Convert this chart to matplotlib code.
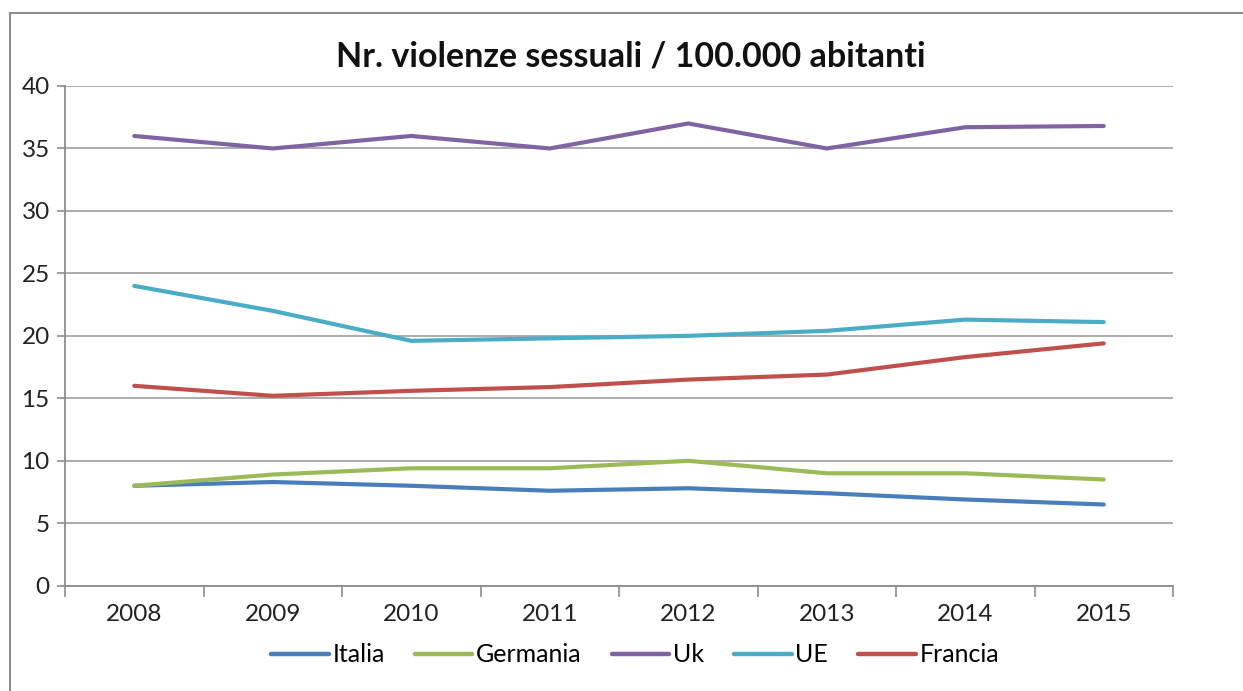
import matplotlib
matplotlib.use("Agg")
import matplotlib.pyplot as plt
from matplotlib.patches import Rectangle

years = ["2008", "2009", "2010", "2011", "2012", "2013", "2014", "2015"]
italia = [8.0, 8.3, 8.0, 7.6, 7.8, 7.4, 6.9, 6.5]
germania = [8.0, 8.9, 9.4, 9.4, 10.0, 9.0, 9.0, 8.5]
uk = [36.0, 35.0, 36.0, 35.0, 37.0, 35.0, 36.7, 36.8]
ue = [24.0, 22.0, 19.6, 19.8, 20.0, 20.4, 21.3, 21.1]
francia = [16.0, 15.2, 15.6, 15.9, 16.5, 16.9, 18.3, 19.4]

series = [
    ("Italia", italia, "#4A7EBB"),
    ("Germania", germania, "#9BBB59"),
    ("Uk", uk, "#8064A2"),
    ("UE", ue, "#4BACC6"),
    ("Francia", francia, "#C0504D"),
]

plt.rcParams['font.family'] = ['Lato', 'DejaVu Sans']

fig = plt.figure(figsize=(12.43, 6.91), dpi=100)
fig.patches.append(Rectangle((10/1243, -0.1), 1.2, 1 - 13/691 + 0.1, transform=fig.transFigure,
                             fill=False, edgecolor="#8c8c8c", linewidth=1.5))
ax = fig.add_axes([65/1243, 1 - 585.7/691, (1173 - 65)/1243, (585.7 - 86)/691])

x = list(range(len(years)))
for name, vals, col in series:
    ax.plot(x, vals, color=col, linewidth=3.0, label=name, solid_capstyle='round')

ax.set_xlim(-0.5, len(years) - 0.5)
ax.set_ylim(0, 40)
ax.set_yticks(range(0, 41, 5))
ax.set_xticks([i - 0.5 for i in range(len(years) + 1)])
ax.set_xticklabels([])
ax.set_xticks(x, minor=True)
ax.set_xticklabels(years, minor=True)
ax.tick_params(axis='x', which='minor', length=0, pad=13, labelsize=17.5, labelcolor="#222222")
ax.tick_params(axis='x', which='major', length=8, color="#8c8c8c", width=1.2)
ax.tick_params(axis='y', length=6, color="#8c8c8c", width=1.2, labelsize=17.5, labelcolor="#222222", pad=5)
ax.grid(axis='y', color="#a6a6a6", linewidth=1.3)
ax.set_axisbelow(True)
for s in ['top', 'right']:
    ax.spines[s].set_visible(False)
for s in ['left', 'bottom']:
    ax.spines[s].set_color("#8c8c8c")
    ax.spines[s].set_linewidth(1.3)

fig.text(631/1243, 1 - 57/691, "Nr. violenze sessuali / 100.000 abitanti", ha='center', va='center',
         fontsize=24.5, fontweight='bold', color="#111111")

leg = fig.legend(loc='center', bbox_to_anchor=(635/1243, 1 - 655/691), ncol=5, frameon=False,
                 fontsize=18, handlelength=2.3, handletextpad=0.15, columnspacing=1.2)
for line in leg.get_lines():
    line.set_linewidth(3.2)

fig.savefig("out.png", dpi=100)
